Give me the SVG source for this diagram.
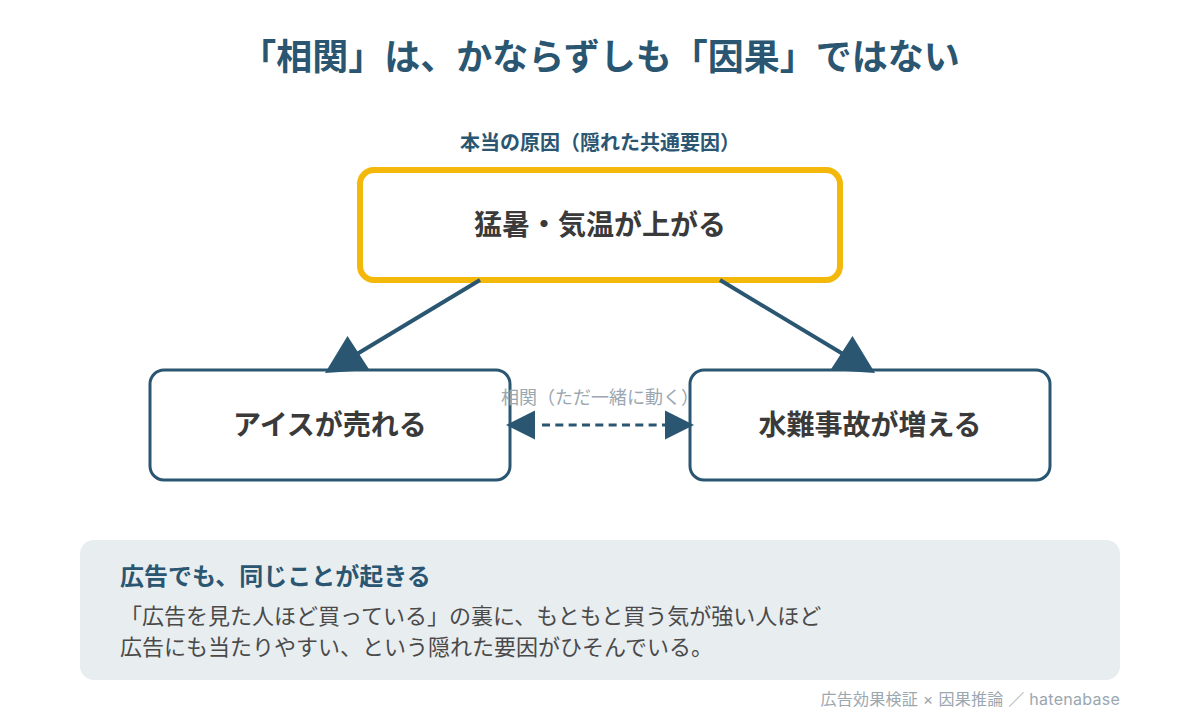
<svg xmlns="http://www.w3.org/2000/svg" width="1200" height="720" viewBox="0 0 1200 720">
<style>
text{font-family:"Inter","Noto Sans CJK JP","Noto Sans",sans-serif}
.c{text-anchor:middle}
.n{font-size:28px;font-weight:700;fill:#3a3a3a}
.b{font-size:22px;fill:#4a4a4a}
.box{fill:#fff;stroke:#2a5671;stroke-width:3}
.l{stroke:#2a5671;stroke-width:4;fill:none}
.h{fill:#2a5671}
</style>
<rect width="1200" height="720" fill="#fff"/>
<text id="title" class="c" x="600" y="70" font-size="36" font-weight="700" fill="#2a5671">「相関」は、かならずしも「因果」ではない</text>
<text class="c" x="600" y="150" font-size="20" font-weight="700" fill="#2a5671">本当の原因（隠れた共通要因）</text>
<g id="node-cause"><rect x="360" y="170" width="480" height="110" rx="14" fill="#fff" stroke="#f4b80a" stroke-width="6"/><text class="c n" x="600" y="235">猛暑・気温が上がる</text></g>
<g id="node-ice"><rect class="box" x="150" y="370" width="360" height="110" rx="14"/><text class="c n" x="330" y="435">アイスが売れる</text></g>
<g id="node-water"><rect class="box" x="690" y="370" width="360" height="110" rx="14"/><text class="c n" x="870" y="435">水難事故が増える</text></g>
<g id="connectors">
<line class="l" x1="480" y1="280" x2="352" y2="357"/>
<polygon class="h" points="325,373 347.500,336 369.500,370"/>
<line class="l" x1="720" y1="280" x2="848" y2="357"/>
<polygon class="h" points="875,373 852.500,336 830.500,370"/>
<line x1="542" y1="425" x2="665" y2="425" stroke="#2a5671" stroke-width="3" stroke-dasharray="8 5.330"/>
<polygon class="h" points="506,425 535,410.500 535,439.500"/>
<polygon class="h" points="694,425 665,410.500 665,439.500"/>
</g>
<text class="c" x="600" y="404" font-size="18" fill="#9aa7b0">相関（ただ一緒に動く）</text>
<g id="note"><rect x="80" y="540" width="1040" height="140" rx="14" fill="#e8edf0"/>
<text x="120" y="585" font-size="24" font-weight="700" fill="#2a5671">広告でも、同じことが起きる</text>
<text class="b" x="120" y="624">「広告を見た人ほど買っている」の裏に、もともと買う気が強い人ほど</text>
<text class="b" x="120" y="655">広告にも当たりやすい、という隠れた要因がひそんでいる。</text></g>
<text x="1120" y="705" text-anchor="end" font-size="16" letter-spacing="0.27" fill="#9aa7b0">広告効果検証 × 因果推論 ／ hatenabase</text>
</svg>
